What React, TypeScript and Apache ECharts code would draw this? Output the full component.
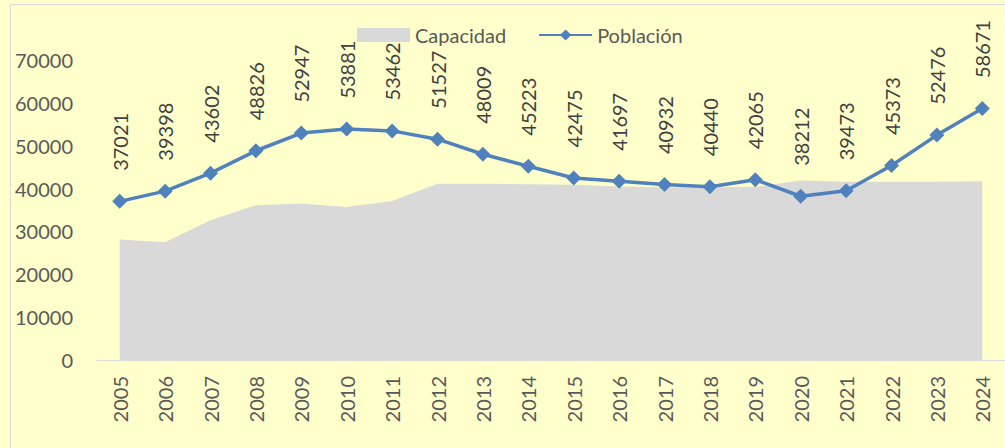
import React, { useEffect, useRef } from "react";
import * as echarts from "echarts";

const years = [
  "2005", "2006", "2007", "2008", "2009", "2010", "2011", "2012", "2013", "2014",
  "2015", "2016", "2017", "2018", "2019", "2020", "2021", "2022", "2023", "2024",
];

const capacidad = [
  28100, 27500, 32600, 36100, 36500, 35700, 37100, 41100, 41100, 41000,
  40900, 40500, 40300, 40300, 40400, 41900, 41600, 41600, 41600, 41700,
];

const poblacion = [
  37021, 39398, 43602, 48826, 52947, 53881, 53462, 51527, 48009, 45223,
  42475, 41697, 40932, 40440, 42065, 38212, 39473, 45373, 52476, 58671,
];

const yMin = 0;
const yMax = 70000;
const yInterval = 10000;

const FONT = "Lato, 'Open Sans', sans-serif";

export default function App() {
  const ref = useRef<HTMLDivElement>(null);

  useEffect(() => {
    if (!ref.current) return;
    const chart = echarts.init(ref.current, undefined, { renderer: "svg" });
    chart.setOption({
      animation: false,
      backgroundColor: "#FFFFCC",
      textStyle: { fontFamily: FONT },
      graphic: [
        {
          type: "rect",
          shape: { x: 10.5, y: 4.5, width: 1100, height: 500 },
          style: { fill: "none", stroke: "#D9D9D9", lineWidth: 1 },
          silent: true,
        },
      ],
      legend: {
        left: 352,
        top: 20,
        itemWidth: 53,
        itemHeight: 14,
        itemGap: 32,
        textStyle: { fontSize: 20, color: "#595959", fontFamily: FONT },
        data: [{ name: "Capacidad", icon: "rect" }, { name: "Población" }],
      },
      grid: {
        left: 97,
        top: 60,
        width: 918.6,
        height: 300,
        containLabel: false,
      },
      xAxis: {
        type: "category",
        data: years,
        boundaryGap: true,
        axisLine: { show: true, lineStyle: { color: "#D9D9D9", width: 1 } },
        axisTick: { show: false },
        axisLabel: {
          rotate: 90,
          margin: 16,
          fontSize: 20,
          color: "#595959",
          fontFamily: FONT,
          interval: 0,
        },
        splitLine: { show: false },
      },
      yAxis: {
        type: "value",
        min: yMin,
        max: yMax,
        interval: yInterval,
        axisLine: { show: false },
        axisTick: { show: false },
        splitLine: { show: false },
        axisLabel: {
          margin: 24,
          fontSize: 20,
          color: "#595959",
          fontFamily: FONT,
          formatter: (v: number) => String(v),
        },
      },
      series: [
        {
          name: "Capacidad",
          type: "line",
          data: capacidad,
          color: "#D9D9D9",
          symbol: "none",
          showSymbol: false,
          lineStyle: { width: 0, color: "#D9D9D9" },
          areaStyle: { color: "#D9D9D9", opacity: 1 },
          itemStyle: { color: "#D9D9D9" },
          z: 1,
        },
        {
          name: "Población",
          type: "line",
          data: poblacion,
          color: "#4F81BD",
          symbol: "diamond",
          symbolSize: [15, 15],
          lineStyle: { width: 3.5, color: "#4F81BD" },
          itemStyle: { color: "#4F81BD" },
          z: 3,
          label: {
            show: true,
            position: "top",
            distance: 23,
            rotate: 90,
            align: "left",
            verticalAlign: "middle",
            fontSize: 20,
            color: "#404040",
            fontFamily: FONT,
          },
        },
      ],
    });
    return () => chart.dispose();
  }, []);

  return (
    <div
      ref={ref}
      style={{ position: "absolute", left: 0, top: 0, width: 1005, height: 448 }}
    />
  );
}
